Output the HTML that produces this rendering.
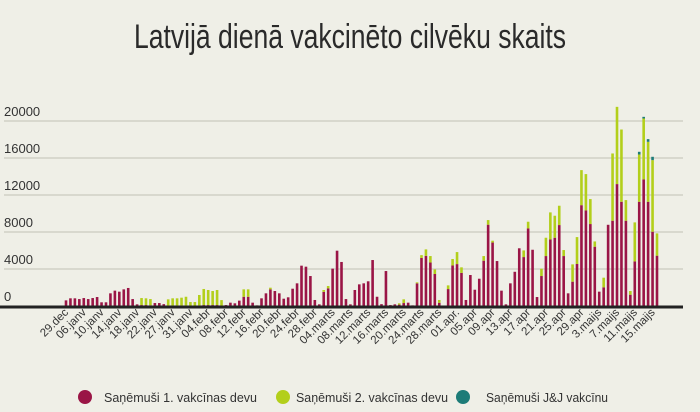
<!DOCTYPE html>
<html><head><meta charset="utf-8"><style>
html,body{margin:0;padding:0;background:#efefe7;}
svg{display:block;font-family:"Liberation Sans",sans-serif;}
</style></head><body>
<svg id="chart" width="700" height="412" viewBox="0 0 700 412">
<rect width="700" height="412" fill="#efefe7"/>
<text x="350" y="48" text-anchor="middle" font-family="'Liberation Sans Narrow','Liberation Sans',sans-serif" font-size="34" fill="#2a2a2a" textLength="432" lengthAdjust="spacingAndGlyphs">Latvijā dienā vakcinēto cilvēku skaits</text>
<g id="grid"></g><g id="bars"></g><g id="xlabels"></g>
<g>
<g><circle cx="85" cy="397" r="7" fill="#9a1546"/><text x="104" y="402" font-size="12.5" fill="#333" textLength="153" lengthAdjust="spacingAndGlyphs">Saņēmuši 1. vakcīnas devu</text></g>
<g><circle cx="283" cy="397" r="7" fill="#b3cf1b"/><text x="296" y="402" font-size="12.5" fill="#333" textLength="152" lengthAdjust="spacingAndGlyphs">Saņēmuši 2. vakcīnas devu</text></g>
<g><circle cx="463" cy="397" r="7" fill="#1d7c78"/><text x="486" y="402" font-size="12.5" fill="#333" textLength="122" lengthAdjust="spacingAndGlyphs">Saņēmuši J&amp;J vakcīnu</text></g>
</g>
</svg>
<script>
const dose1=[610,830,830,750,860,750,860,970,400,400,1370,1660,1550,1800,1950,750,180,100,100,80,320,320,200,60,60,60,60,60,40,40,60,100,100,100,100,40,100,360,290,580,1000,1000,360,70,830,1370,1800,1620,1370,790,940,1870,2450,4360,4250,3240,650,180,1530,1910,4040,5980,4760,750,180,1730,2340,2450,2670,4970,1000,200,3780,100,180,150,320,360,70,2450,5200,5420,4700,3460,350,30,1830,4380,4530,3580,650,3350,1760,2950,4900,8790,6860,4860,1660,180,2450,3700,6240,5290,8390,6080,970,3240,5400,7200,7380,8750,5400,1370,2630,4540,10900,10330,8860,6410,1550,2020,8780,9220,13180,11270,9220,1220,4820,11270,13680,11270,8030,5440];
const dose2=[0,0,0,0,0,0,0,0,0,0,0,0,0,0,0,0,0,760,730,670,0,0,0,660,770,770,840,940,390,390,1130,1740,1630,1520,1630,600,0,0,0,0,800,800,0,0,0,0,180,0,0,0,0,0,0,0,0,0,0,0,200,250,0,0,0,0,0,0,0,0,0,0,0,0,0,0,0,140,400,0,0,110,300,700,700,500,300,0,400,700,1300,600,0,0,0,0,500,500,200,0,0,0,0,0,0,720,720,0,0,790,1980,2920,2380,2090,650,0,1870,2910,3790,3930,2700,570,0,1040,0,7270,8350,7810,2230,400,4220,5110,6590,6480,7740,2410];
const jj=[0,0,0,0,0,0,0,0,0,0,0,0,0,0,0,0,0,0,0,0,0,0,0,0,0,0,0,0,0,0,0,0,0,0,0,0,0,0,0,0,0,0,0,0,0,0,0,0,0,0,0,0,0,0,0,0,0,0,0,0,0,0,0,0,0,0,0,0,0,0,0,0,0,0,0,0,0,0,0,0,0,0,0,0,0,0,0,0,0,0,0,0,0,0,0,0,0,0,0,0,0,0,0,0,0,0,0,0,0,0,0,0,0,0,0,0,0,0,0,0,0,0,0,0,0,0,0,0,0,290,180,290,360,0];
const tickLabels=["29.dec","06.janv","10.janv","14.janv","18.janv","22.janv","27.janv","31.janv","04.febr","08.febr","12.febr","16.febr","20.febr","24.febr","28.febr","04.marts","08.marts","12.marts","16.marts","20.marts","24.marts","28.marts","01.apr.","05.apr","09.apr","13.apr","17.apr","21.apr","25.apr","29.apr","3.maijs","7.maijs","11.maijs","15.maijs"];
const yTicks=[0,4000,8000,12000,16000,20000];
const NS="http://www.w3.org/2000/svg";
const y0=306, pxPer=185/20000;
const yScale=v=>y0-v*pxPer;
const x0=66, step=(657-66)/(dose1.length-1);
const xScale=i=>x0+i*step;
function mk(tag,attrs,parent){const e=document.createElementNS(NS,tag);for(const k in attrs)e.setAttribute(k,attrs[k]);parent.appendChild(e);return e;}
const grid=document.getElementById('grid');
yTicks.forEach(v=>{
  if(v>0){const l=mk('line',{x1:4,x2:683,y1:yScale(v),y2:yScale(v),stroke:'#c9c9c0','stroke-width':1.2},grid);
  
  }
  const t=mk('text',{x:4,y:yScale(v)-5,'font-size':13,fill:'#333'},grid);
  t.textContent=v;
  
  
});
const bars=document.getElementById('bars');
const bw=2.6;
dose1.forEach((d,i)=>{
  const x=xScale(i)-bw/2;
  const segs=[[d,'#9a1546','dose1'],[dose2[i],'#b3cf1b','dose2'],[jj[i],'#1d7c78','jj']];
  let base=0;
  segs.forEach(([v,c,n])=>{
    if(v<=0)return;
    const r=mk('rect',{x:x,y:yScale(base+v),width:bw,height:v*pxPer,fill:c},bars);
    
    
    base+=v;
  });
});
const ax=mk('line',{x1:0,x2:683,y1:y0+1,y2:y0+1,stroke:'#222','stroke-width':3},grid.parentNode);


const xl=document.getElementById('xlabels');
tickLabels.forEach((lab,k)=>{
  const x=xScale(k*4)+3, y=313;
  const t=mk('text',{x:x,y:y,'font-size':11.5,fill:'#333','text-anchor':'end',transform:'rotate(-45 '+x+' '+y+')'},xl);
  t.textContent=lab;
  
  
});
</script>
</body></html>
